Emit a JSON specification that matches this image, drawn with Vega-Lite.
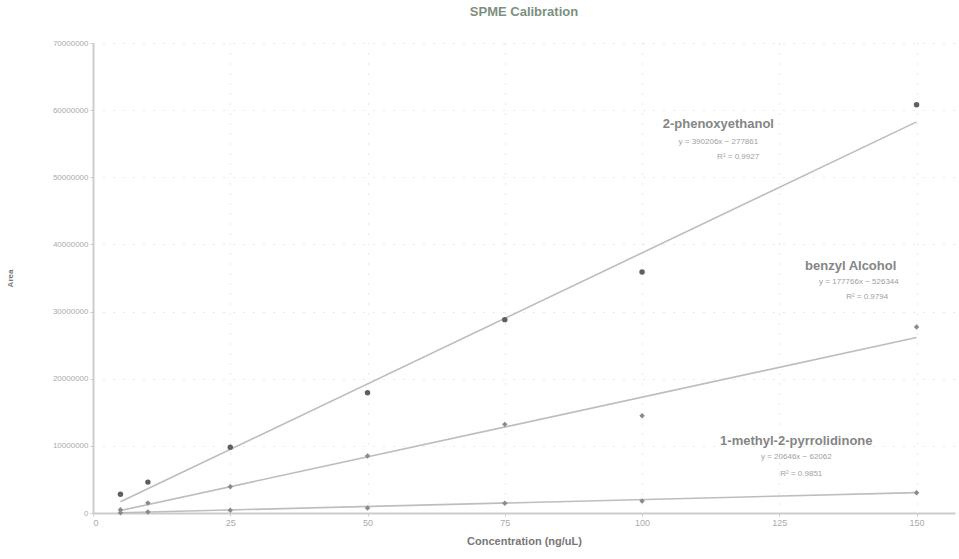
{
  "$schema": "https://vega.github.io/schema/vega-lite/v6.json",
  "autosize": {"type": "none"},
  "padding": {"left": 93, "top": 43, "right": 4, "bottom": 46},
  "width": 862,
  "height": 470,
  "background": "white",
  "title": {"text": "SPME  Calibration", "font": "Liberation Sans", "fontSize": 13, "fontWeight": "bold", "color": "#7d8f80", "offset": 20, "anchor": "middle"},
  "config": {"view": {"stroke": null}},
  "datasets": {
    "points": [
      {"compound": "2-phenoxyethanol", "conc": 5, "area": 2800000},
      {"compound": "2-phenoxyethanol", "conc": 10, "area": 4600000},
      {"compound": "2-phenoxyethanol", "conc": 25, "area": 9800000},
      {"compound": "2-phenoxyethanol", "conc": 50, "area": 17900000},
      {"compound": "2-phenoxyethanol", "conc": 75, "area": 28800000},
      {"compound": "2-phenoxyethanol", "conc": 100, "area": 35900000},
      {"compound": "2-phenoxyethanol", "conc": 150, "area": 60800000},
      {"compound": "benzyl Alcohol", "conc": 5, "area": 500000},
      {"compound": "benzyl Alcohol", "conc": 10, "area": 1500000},
      {"compound": "benzyl Alcohol", "conc": 25, "area": 3900000},
      {"compound": "benzyl Alcohol", "conc": 50, "area": 8500000},
      {"compound": "benzyl Alcohol", "conc": 75, "area": 13200000},
      {"compound": "benzyl Alcohol", "conc": 100, "area": 14500000},
      {"compound": "benzyl Alcohol", "conc": 150, "area": 27700000},
      {"compound": "1-methyl-2-pyrrolidinone", "conc": 5, "area": 50000},
      {"compound": "1-methyl-2-pyrrolidinone", "conc": 10, "area": 150000},
      {"compound": "1-methyl-2-pyrrolidinone", "conc": 25, "area": 400000},
      {"compound": "1-methyl-2-pyrrolidinone", "conc": 50, "area": 750000},
      {"compound": "1-methyl-2-pyrrolidinone", "conc": 75, "area": 1450000},
      {"compound": "1-methyl-2-pyrrolidinone", "conc": 100, "area": 1800000},
      {"compound": "1-methyl-2-pyrrolidinone", "conc": 150, "area": 3000000}
    ],
    "trends": [
      {"compound": "2-phenoxyethanol", "conc": 5, "area": 1670000},
      {"compound": "2-phenoxyethanol", "conc": 150, "area": 58250000},
      {"compound": "benzyl Alcohol", "conc": 5, "area": 360000},
      {"compound": "benzyl Alcohol", "conc": 150, "area": 26140000},
      {"compound": "1-methyl-2-pyrrolidinone", "conc": 5, "area": 40000},
      {"compound": "1-methyl-2-pyrrolidinone", "conc": 150, "area": 3030000}
    ],
    "labels": [
      {"conc": 113.9, "area": 57900000, "text": "2-phenoxyethanol", "kind": "name"},
      {"conc": 113.9, "area": 55300000, "text": "y = 390206x − 277861", "kind": "eq"},
      {"conc": 117.5, "area": 53000000, "text": "R² = 0.9927", "kind": "eq"},
      {"conc": 138.0, "area": 36800000, "text": "benzyl Alcohol", "kind": "name"},
      {"conc": 139.5, "area": 34400000, "text": "y = 177766x − 526344", "kind": "eq"},
      {"conc": 141.0, "area": 32200000, "text": "R² = 0.9794", "kind": "eq"},
      {"conc": 128.1, "area": 10700000, "text": "1-methyl-2-pyrrolidinone", "kind": "name"},
      {"conc": 128.1, "area": 8300000, "text": "y = 20646x − 62062", "kind": "eq"},
      {"conc": 129.0, "area": 5800000, "text": "R² = 0.9851", "kind": "eq"}
    ]
  },
  "encoding": {
    "x": {"field": "conc", "type": "quantitative", "scale": {"domain": [0, 157], "nice": false},
      "axis": {"values": [0, 25, 50, 75, 100, 125, 150], "title": "Concentration (ng/uL)", "titleFont": "Liberation Sans", "titleFontSize": 11, "titleFontWeight": "bold", "titleColor": "#777", "titlePadding": 8,
        "labelFont": "Liberation Sans", "labelFontSize": 9, "labelColor": "#aaa", "domainColor": "#ccc", "domainWidth": 2, "tickColor": "#ccc", "tickSize": 3,
        "grid": true, "gridColor": "#d2d2d2", "gridDash": [1, 9], "gridWidth": 1}},
    "y": {"field": "area", "type": "quantitative", "scale": {"domain": [0, 70000000], "nice": false},
      "axis": {"values": [0, 10000000, 20000000, 30000000, 40000000, 50000000, 60000000, 70000000], "format": "d", "title": "Area", "titleFont": "Liberation Sans", "titleFontSize": 8, "titleFontWeight": "bold", "titleColor": "#777", "titlePadding": 38,
        "labelFont": "Liberation Sans", "labelFontSize": 8, "labelColor": "#aaa", "domainColor": "#ccc", "domainWidth": 2, "tickColor": "#ccc", "tickSize": 3,
        "grid": true, "gridColor": "#d2d2d2", "gridDash": [1, 9], "gridWidth": 1}}
  },
  "layer": [
    {"data": {"name": "trends"}, "mark": {"type": "line", "color": "#bdbdbd", "strokeWidth": 1.6}, "encoding": {"detail": {"field": "compound"}}},
    {"data": {"name": "points"}, "mark": {"type": "point", "filled": true, "size": 30, "opacity": 1},
      "encoding": {"color": {"field": "compound", "type": "nominal", "legend": null, "scale": {"domain": ["2-phenoxyethanol", "benzyl Alcohol", "1-methyl-2-pyrrolidinone"], "range": ["#5f5f5f", "#8a8a8a", "#8a8a8a"]}},
        "shape": {"field": "compound", "type": "nominal", "legend": null, "scale": {"domain": ["2-phenoxyethanol", "benzyl Alcohol", "1-methyl-2-pyrrolidinone"], "range": ["circle", "diamond", "diamond"]}}}},
    {"data": {"name": "labels"}, "transform": [{"filter": "datum.kind == 'name'"}], "mark": {"type": "text", "font": "Liberation Sans", "fontSize": 13, "fontWeight": "bold", "color": "#858585", "align": "center", "baseline": "middle"}, "encoding": {"text": {"field": "text"}}},
    {"data": {"name": "labels"}, "transform": [{"filter": "datum.kind == 'eq'"}], "mark": {"type": "text", "font": "Liberation Sans", "fontSize": 8, "color": "#a0a0a0", "align": "center", "baseline": "middle"}, "encoding": {"text": {"field": "text"}}}
  ]
}
